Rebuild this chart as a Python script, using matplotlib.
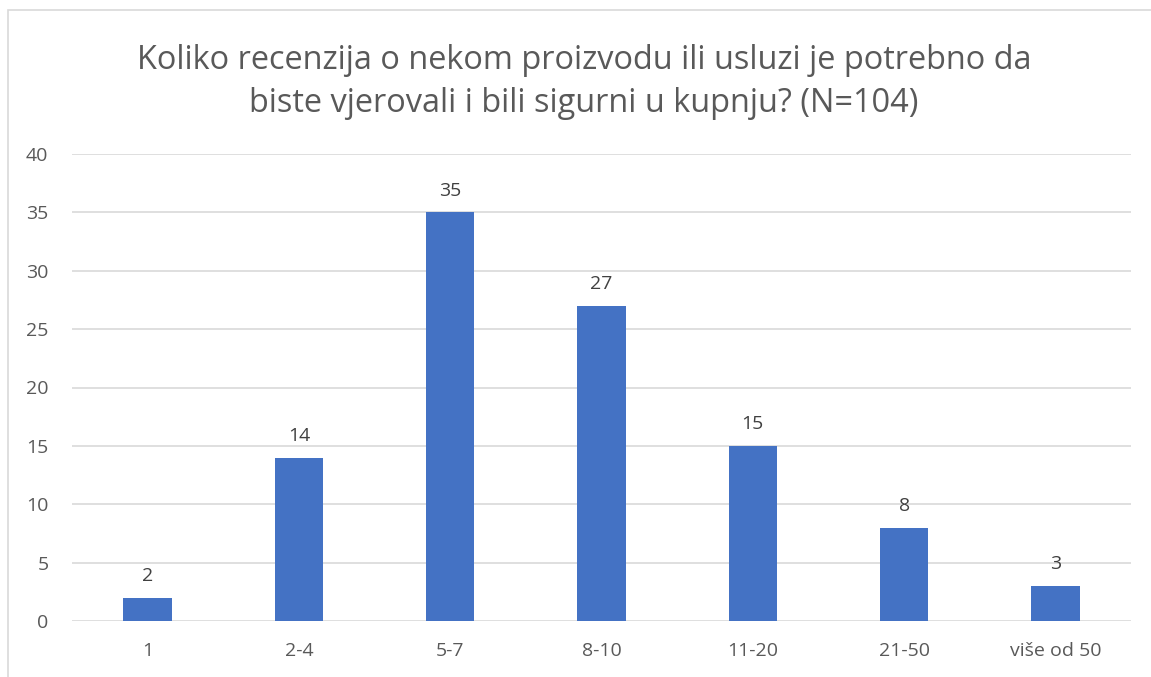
import matplotlib.pyplot as plt
from matplotlib.patches import Rectangle

# podaci
kategorije = ['1', '2-4', '5-7', '8-10', '11-20', '21-50', 'više od 50']
odgovori = [2, 14, 35, 27, 15, 8, 3]
naslov = 'Koliko recenzija o nekom proizvodu ili usluzi je potrebno da\nbiste vjerovali i bili sigurni u kupnju? (N=104)'

plt.rcParams['font.family'] = ['Open Sans', 'DejaVu Sans']
siva = '#595959'

W, H = 1151, 677
fig = plt.figure(figsize=(W / 100, H / 100), dpi=100)
ax = fig.add_axes([72 / W, 1 - 621 / H, (1131 - 72) / W, (621 - 154) / H])

x = range(len(kategorije))
bars = ax.bar(x, odgovori, width=0.32, color='#4472C4', zorder=3)
for b, v in zip(bars, odgovori):
    ax.annotate(str(v), (b.get_x() + b.get_width() / 2, v),
                xytext=(0, 9), textcoords='offset points',
                ha='center', va='bottom', fontsize=14, color='#404040')

ax.set_xlim(-0.5, len(kategorije) - 0.5)
ax.set_ylim(0, 40)
ax.set_yticks(range(0, 41, 5))
ax.set_xticks(list(x))
ax.set_xticklabels(kategorije)
ax.tick_params(axis='both', length=0, labelsize=14, labelcolor=siva)
ax.tick_params(axis='y', pad=17)
ax.tick_params(axis='x', pad=15)
ax.grid(axis='y', color='#D9D9D9', linewidth=1.2, zorder=0)
for s in ax.spines.values():
    s.set_visible(False)

fig.text(584 / W, 1 - 82 / H, naslov, ha='center', va='center',
         fontsize=23.4, color=siva, linespacing=1.42)

# okvir grafikona
fig.patches.append(Rectangle((8 / W, -0.05), 1.1, 1 - 10 / H + 0.05,
                             transform=fig.transFigure, fill=False,
                             edgecolor='#D9D9D9', linewidth=1.2))

plt.savefig('out.png', dpi=100)
